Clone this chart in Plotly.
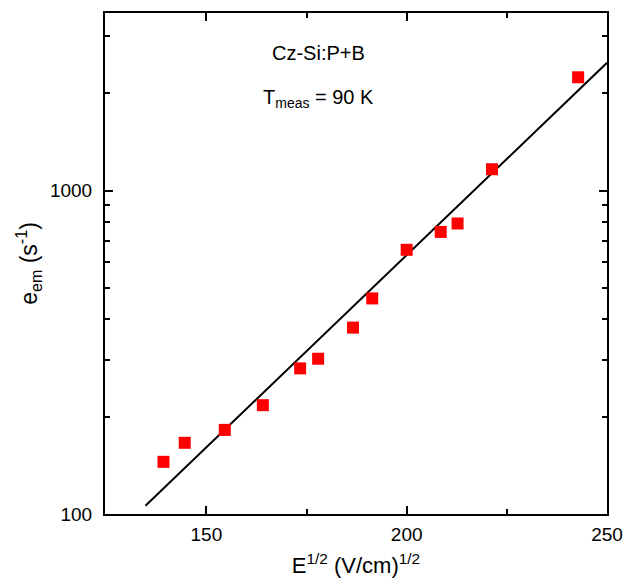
import plotly.graph_objects as go

# Data
field_sqrt = [139.3, 144.6, 154.6, 164.1, 173.4, 177.9, 186.6, 191.4, 200.0, 208.5, 212.7, 221.3, 242.8]
emission = [145, 166, 182, 217, 282, 302, 377, 464, 656, 745, 791, 1164, 2240]

fit_x = [134.8, 250.0]
fit_y = [106, 2484]

x_ticks = [150, 200, 250]
y_ticks = [100, 1000]
y_tick_text = ["100", "1000"]
y_minor = [200, 300, 400, 500, 600, 700, 800, 900, 2000, 3000]

FONT = "Liberation Sans, Arial, Helvetica, sans-serif"

fig = go.Figure()
fig.add_trace(go.Scatter(
    x=fit_x, y=fit_y, mode="lines",
    line=dict(color="black", width=2),
    showlegend=False, hoverinfo="skip"))
fig.add_trace(go.Scatter(
    x=field_sqrt, y=emission, mode="markers",
    marker=dict(symbol="square", size=12, color="#ff0000", line=dict(width=0)),
    showlegend=False))

fig.update_layout(
    width=625, height=586,
    margin=dict(l=105, r=18, t=13, b=72, autoexpand=False),
    paper_bgcolor="white", plot_bgcolor="white",
    font=dict(family=FONT, size=19, color="black"),
    showlegend=False,
    annotations=[
        dict(text="Cz-Si:P+B", xref="paper", yref="paper", x=0.425, y=0.92,
             xanchor="center", yanchor="middle",
             showarrow=False, font=dict(size=20, family=FONT)),
        dict(text="T<sub>meas</sub> = 90 K", xref="paper", yref="paper", x=0.425, y=0.83,
             xanchor="center", yanchor="middle",
             showarrow=False, font=dict(size=20, family=FONT)),
    ],
)

fig.update_xaxes(
    range=[124.7, 250], tickvals=x_ticks, ticktext=[str(v) for v in x_ticks],
    ticks="inside", ticklen=8, tickwidth=1.5, tickcolor="black",
    showline=True, linecolor="black", linewidth=2, mirror="allticks",
    showgrid=False, zeroline=False, automargin=False,
    ticklabelstandoff=2,
    tickfont=dict(size=19, family=FONT),
    minor=dict(tickvals=[175, 225], ticks="inside", ticklen=5, tickwidth=1.5, tickcolor="black", showgrid=False),
    title=dict(text="E<sup>1/2</sup> (V/cm)<sup>1/2</sup>", font=dict(size=22, family=FONT), standoff=14),
)
fig.update_yaxes(
    type="log", range=[2, 3.549], tickvals=y_ticks, ticktext=y_tick_text,
    ticks="inside", ticklen=8, tickwidth=1.5, tickcolor="black",
    showline=True, linecolor="black", linewidth=2, mirror="allticks",
    showgrid=False, zeroline=False, automargin=False,
    ticklabelstandoff=7,
    tickfont=dict(size=19, family=FONT),
    minor=dict(tickvals=y_minor, ticks="inside", ticklen=5, tickwidth=1.5, tickcolor="black", showgrid=False),
    title=dict(text="e<sub>em</sub> (s<sup>-1</sup>)", font=dict(size=23, family=FONT), standoff=6),
)

fig.write_html(
    "out.html",
    config={"displayModeBar": False},
    post_script="document.body.style.margin='0px';document.body.style.overflow='hidden';",
)
